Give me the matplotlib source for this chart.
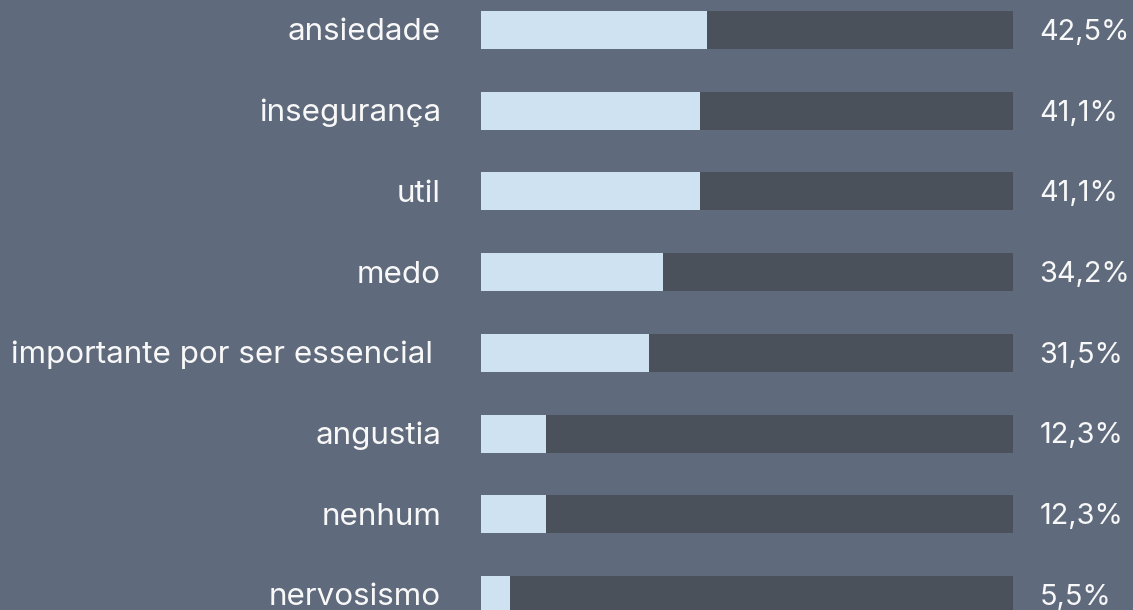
import matplotlib
matplotlib.use("Agg")
import matplotlib.pyplot as plt

# dados
categorias = ["ansiedade", "insegurança", "util", "medo",
              "importante por ser essencial", "angustia", "nenhum", "nervosismo"]
valores = [42.5, 41.1, 41.1, 34.2, 31.5, 12.3, 12.3, 5.5]
rotulos = ["42,5%", "41,1%", "41,1%", "34,2%", "31,5%", "12,3%", "12,3%", "5,5%"]

fundo = "#5f6a7c"
claro = "#cfe2f2"
escuro = "#4a515b"

fig = plt.figure(figsize=(11.33, 6.10), dpi=100)
fig.patch.set_facecolor(fundo)
W, H = 1133, 610
ax = fig.add_axes([481 / W, 0, 532 / W, 1])
ax.set_facecolor(fundo)

passo = 80.7
y = list(range(len(categorias)))
ax.barh(y, [100] * len(y), height=38 / passo, color=escuro)
ax.barh(y, valores, height=38 / passo, color=claro)

ax.set_xlim(0, 100)
ax.set_ylim((H - 30) / passo, -30 / passo)
ax.axis("off")

for i, (cat, rot) in enumerate(zip(categorias, rotulos)):
    dx = 0 if i != 4 else 1.5
    ax.text(-7.5 - dx, i + 0.03, cat, ha="right", va="center", color="#f8f8f8",
            fontsize=22.6, family="Inter", clip_on=False)
    ax.text(105.0, i + 0.03, rot, ha="left", va="center", color="#f8f8f8",
            fontsize=20.8, family="Inter", clip_on=False)

fig.savefig("out.png", dpi=100, facecolor=fundo)
